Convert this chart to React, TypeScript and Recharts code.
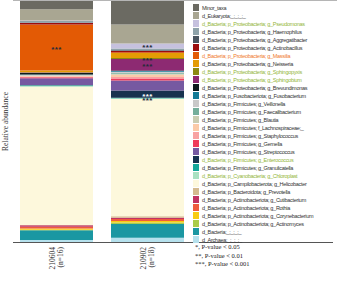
import React from 'react';
import { BarChart, Bar, XAxis, YAxis, LabelList } from 'recharts';

// sample groups (x axis)
const groups = ['210604', '210902'];
const groupSizes = ['(n=16)', '(n=18)'];

// taxa, top of the stack first (same order as the legend)
const taxa = [
  'Minor_taxa',
  'd_Eukaryota;_;_;_;_',
  'd_Bacteria; p_Proteobacteria; g_Pseudomonas',
  'd_Bacteria; p_Proteobacteria; g_Haemophilus',
  'd_Bacteria; p_Proteobacteria; g_Aggregatibacter',
  'd_Bacteria; p_Proteobacteria; g_Actinobacillus',
  'd_Bacteria; p_Proteobacteria; g_Massilia',
  'd_Bacteria; p_Proteobacteria; g_Neisseria',
  'd_Bacteria; p_Proteobacteria; g_Sphingopyxis',
  'd_Bacteria; p_Proteobacteria; g_Sphingobium',
  'd_Bacteria; p_Proteobacteria; g_Brevundimonas',
  'd_Bacteria; p_Fusobacteriota; g_Fusobacterium',
  'd_Bacteria; p_Firmicutes; g_Veillonella',
  'd_Bacteria; p_Firmicutes; g_Faecalibacterium',
  'd_Bacteria; p_Firmicutes; g_Blautia',
  'd_Bacteria; p_Firmicutes; f_Lachnospiraceae;_',
  'd_Bacteria; p_Firmicutes; g_Staphylococcus',
  'd_Bacteria; p_Firmicutes; g_Gemella',
  'd_Bacteria; p_Firmicutes; g_Streptococcus',
  'd_Bacteria; p_Firmicutes; g_Enterococcus',
  'd_Bacteria; p_Firmicutes; g_Granulicatella',
  'd_Bacteria; p_Cyanobacteria; g_Chloroplast',
  'd_Bacteria; p_Campilobacterota; g_Helicobacter',
  'd_Bacteria; p_Bacteroidota; g_Prevotella',
  'd_Bacteria; p_Actinobacteriota; g_Cutibacterium',
  'd_Bacteria; p_Actinobacteriota; g_Rothia',
  'd_Bacteria; p_Actinobacteriota; g_Corynebacterium',
  'd_Bacteria; p_Actinobacteriota; g_Actinomyces',
  'd_Bacteria;_;_;_;_',
  'd_Archaea;_;_;_;_',
];

const taxonColors = [
  '#6b6a62', '#a9a692', '#c6c1de', '#8fa3aa', '#4b5661', '#9c0d0d',
  '#e35a05', '#e49c05', '#8c8a12', '#8d2a72', '#0e1a1c', '#147b96',
  '#c9c9c9', '#74ae9b', '#cacdb2', '#fbcaa8', '#f8a2a2', '#ef3b5b',
  '#7659a1', '#17324f', '#14a69a', '#a9e1c2', '#fdf8dc', '#d4ba8f',
  '#c13262', '#ee5b3d', '#f8cb12', '#a9cc4a', '#1a97a2', '#b6e1ed',
];

// legend text tone: green / orange for the highlighted taxa
const legendTextColors = taxa.map((t) =>
  t.endsWith('g_Massilia')
    ? '#f07a2a'
    : ['g_Pseudomonas', 'g_Sphingopyxis', 'g_Sphingobium', 'g_Enterococcus', 'g_Chloroplast'].some((g) => t.endsWith(g))
    ? '#93b63a'
    : '#333333'
);

// relative abundance (%), same order as taxa
const abund210604 = [
  3.4, 4.7, 0.2, 0.6, 0.2, 0.7, 19.0, 0.8, 0.1, 0.2, 0.6, 0.1, 0.2, 0.1, 0.1,
  0.3, 0.3, 0.5, 2.8, 0.1, 0.2, 0.4, 57.3, 0.2, 0.6, 0.7, 0.5, 0.2, 4.1, 0.8,
];
const abund210902 = [
  9.7, 7.9, 2.1, 0.7, 0.3, 0.6, 0.3, 2.1, 0.4, 4.7, 0.2, 0.4, 0.4, 0.4, 0.4,
  0.9, 0.7, 0.8, 4.1, 3.0, 0.3, 0.3, 48.6, 0.6, 0.6, 0.8, 0.6, 0.6, 5.7, 1.8,
];
const abundance = [abund210604, abund210902];

// significance marks per group
const starred210604 = ['g_Massilia'];
const starred210902 = ['g_Pseudomonas', 'g_Sphingopyxis', 'g_Sphingobium', 'g_Enterococcus', 'g_Chloroplast'];
const starred = [starred210604, starred210902];

const pNotes = ['*, P-value < 0.05', '**, P-value < 0.01', '***, P-value < 0.001'];

const data = groups.map((g, gi) => {
  const row: Record<string, string | number> = { name: g, n: groupSizes[gi] };
  taxa.forEach((_, i) => {
    row[`t${i}`] = abundance[gi][i];
  });
  return row;
});

const serif = '"Liberation Serif", "Times New Roman", serif';
const sans = '"Liberation Sans", Arial, sans-serif';

const GroupTick = (props: any) => {
  const { x, payload, index } = props;
  return (
    <g transform={`translate(${x},247) rotate(-90)`}>
      <text x={0} y={-1.5} textAnchor="end" fontFamily={serif} fontSize={7.5} fill="#333">
        {payload.value}
      </text>
      <text x={0} y={6.5} textAnchor="end" fontFamily={serif} fontSize={7.5} fill="#333">
        {groupSizes[index]}
      </text>
    </g>
  );
};

const makeStars = (taxonIdx: number) => (props: any) => {
  const { x, y, width, height, index } = props;
  const marks = starred[index] || [];
  if (!marks.some((m) => taxa[taxonIdx].endsWith(m))) return null;
  const light = taxa[taxonIdx].endsWith('g_Enterococcus');
  return (
    <text
      x={x + width / 2}
      y={y + height / 2 + 4.5}
      textAnchor="middle"
      fontFamily={sans}
      fontSize={8}
      letterSpacing={0.4}
      fontWeight="bold"
      fill={light ? '#ffffff' : '#1f2b3a'}
    >
      ***
    </text>
  );
};

const App: React.FC = () => {
  const stackOrder = taxa.map((_, i) => i).reverse();
  return (
    <div style={{ position: 'absolute', left: 0, top: 0, width: 337, height: 281, background: '#fff', overflow: 'hidden' }}>
      <div style={{ position: 'absolute', left: 13, top: 0, width: 324, height: 1, background: '#b5b5b5' }} />
      <BarChart width={200} height={281} data={data} margin={{ top: 1, right: 7, left: 0, bottom: 0 }}>
        <YAxis
          domain={[0, 100]}
          width={11}
          tick={false}
          tickLine={false}
          axisLine={false}
          label={{ value: 'Relative abundance', angle: -90, position: 'center', fontFamily: serif, fontSize: 7.5, fill: '#333' }}
        />
        <XAxis dataKey="name" height={39} axisLine={false} tickLine={false} interval={0} tick={<GroupTick />} />
        {stackOrder.map((i) => (
          <Bar key={i} dataKey={`t${i}`} stackId="a" fill={taxonColors[i]} barSize={73} isAnimationActive={false}>
            <LabelList dataKey={`t${i}`} content={makeStars(i)} />
          </Bar>
        ))}
      </BarChart>
      <div style={{ position: 'absolute', left: 13, top: 241.5, width: 320, height: 1, background: '#555' }} />
      <svg style={{ position: 'absolute', left: 0, top: 0 }} width={337} height={281}>
        {taxa.map((t, i) => (
          <g key={t}>
            <rect x={193} y={4 + i * 8} width={6} height={7} fill={taxonColors[i]} />
            <text x={202} y={9.8 + i * 8} fontFamily={sans} fontSize={5.5} letterSpacing={-0.3} fill={legendTextColors[i]}>
              {t}
            </text>
          </g>
        ))}
        {pNotes.map((note, i) => (
          <text key={note} x={195} y={249 + i * 8.5} fontFamily={serif} fontSize={6.5} fill="#222">
            {note}
          </text>
        ))}
      </svg>
    </div>
  );
};

export default App;
